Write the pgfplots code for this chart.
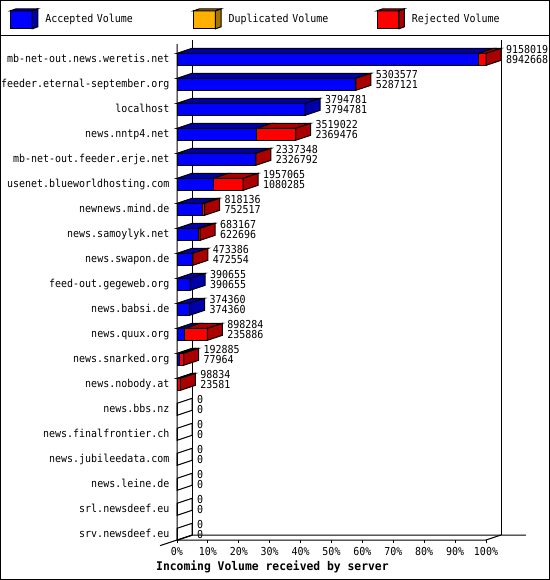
\documentclass[border=0pt]{standalone}
\usepackage{pgfplots}
\pgfplotsset{compat=1.18}
\usepackage{pgfplotstable}
\usepackage{fontspec}
\setmainfont{DejaVu Sans Mono}[FakeStretch=0.91]
\newfontfamily\titlefont{DejaVu Sans Mono}[FakeStretch=0.95]

\definecolor{accF}{HTML}{0000FF}
\definecolor{accD}{HTML}{0000AA}
\definecolor{dupF}{HTML}{FFB000}
\definecolor{dupD}{HTML}{A87400}
\definecolor{rejF}{HTML}{FF0000}
\definecolor{rejD}{HTML}{AA0000}

% total offered / accepted per server; bars are % of the largest total
\pgfplotstableread{
row name                          total   acc
1   mb-net-out.news.weretis.net   9158019 8942668
2   feeder.eternal-september.org  5303577 5287121
3   localhost                     3794781 3794781
4   news.nntp4.net                3519022 2369476
5   mb-net-out.feeder.erje.net    2337348 2326792
6   usenet.blueworldhosting.com   1957065 1080285
7   newnews.mind.de               818136  752517
8   news.samoylyk.net             683167  622696
9   news.swapon.de                473386  472554
10  feed-out.gegeweb.org          390655  390655
11  news.babsi.de                 374360  374360
12  news.quux.org                 898284  235886
13  news.snarked.org              192885  77964
14  news.nobody.at                98834   23581
15  news.bbs.nz                   0       0
16  news.finalfrontier.ch         0       0
17  news.jubileedata.com          0       0
18  news.leine.de                 0       0
19  srl.newsdeef.eu               0       0
20  srv.newsdeef.eu               0       0
}\data

\newcommand\dX{4.8544}
\newcommand\cube[2]{%
  \draw[line width=1bp,fill=#1] (0bp,-9bp) rectangle (21.7bp,9bp);
  \draw[line width=1bp,fill=#2] (21.7bp,9bp) -- (27.3bp,11bp) -- (27.3bp,-7bp) -- (21.7bp,-9bp) -- cycle;
  \draw[line width=1bp,fill=#2] (0bp,9bp) -- (5.6bp,11bp) -- (27.3bp,11bp) -- (21.7bp,9bp) -- cycle;
}
% top and side faces of one bar, from the table values
\newcommand\drawfaces[1]{%
  \pgfplotstablegetelem{#1}{row}\of\data\edef\R{\pgfplotsretval}%
  \pgfplotstablegetelem{#1}{total}\of\data\edef\T{\pgfplotsretval}%
  \pgfplotstablegetelem{#1}{acc}\of\data\edef\A{\pgfplotsretval}%
  \edef\xa{\fpeval{\A/91580.19}}%
  \edef\xt{\fpeval{\T/91580.19}}%
  \edef\xab{\fpeval{\xa+\dX}}%
  \edef\xtb{\fpeval{\xt+\dX}}%
  \edef\yf{\fpeval{\R-0.24}}%
  \edef\yb{\fpeval{\R+0.24}}%
  \edef\yt{\fpeval{\R-0.44}}%
  \edef\ybb{\fpeval{\R+0.04}}%
  \ifnum\fpeval{\T>0}=1\relax
    \edef\cmd{\noexpand\addplot[fill=accD,draw=black,forget plot] coordinates {(0,\yf) (\xa,\yf) (\xab,\yt) (\dX,\yt)} -- cycle;}\cmd
    \ifnum\fpeval{\T>\A}=1\relax
      \edef\cmd{\noexpand\addplot[fill=rejD,draw=black,forget plot] coordinates {(\xa,\yf) (\xt,\yf) (\xtb,\yt) (\xab,\yt)} -- cycle;}\cmd
      \def\sidecol{rejD}%
    \else
      \def\sidecol{accD}%
    \fi
    \edef\cmd{\noexpand\addplot[fill=\sidecol,draw=black,forget plot] coordinates {(\xt,\yf) (\xtb,\yt) (\xtb,\ybb) (\xt,\yb)} -- cycle;}\cmd
  \else
    \edef\cmd{\noexpand\addplot[draw=black,forget plot] coordinates {(0,\yf) (\dX,\yt) (\dX,\ybb) (0,\yb)} -- cycle;}\cmd
  \fi
}

\begin{document}
\begin{tikzpicture}[line width=1bp]
\useasboundingbox (0,0) rectangle (550bp,-580bp);
\draw (0.5bp,-0.5bp) rectangle (549.5bp,-579.5bp);
\draw (0,-35.5bp) -- (550bp,-35.5bp);
\begin{axis}[
    at={(177bp,-540bp)}, anchor=south west,
    scale only axis, width=309bp, height=500bp,
    xmin=0, xmax=100, ymin=0.228, ymax=20.228,
    y dir=reverse, enlargelimits=false, clip=false,
    axis line style={draw=none},
    font=\fontsize{11}{13}\selectfont,
    every axis plot/.append style={line width=1bp},
    xtick={0,10,...,100},
    xticklabels={0\%,10\%,20\%,30\%,40\%,50\%,60\%,70\%,80\%,90\%,100\%},
    xtick pos=left, tick align=outside, major tick length=3bp,
    xtick style={black, line width=1bp},
    xticklabel style={inner sep=0pt, text height=8bp, text depth=0pt},
    xticklabel shift=4bp,
    ytick={1,...,20},
    yticklabels from table={\data}{name},
    ytick style={draw=none},
    yticklabel style={inner sep=0pt, text height=7bp, text depth=1bp},
    yticklabel shift=4.5bp,
    /pgf/number format/assume math mode=true,
    xlabel={Incoming Volume received by server},
    xlabel style={at={(axis description cs:-0.068,-0.054)}, anchor=west,
        inner sep=0pt, font=\titlefont\fontsize{12}{14}\selectfont\bfseries},
    legend columns=3, legend cell align=left,
    legend style={at={(axis description cs:-0.54045,1.0634)}, anchor=north west,
        draw=none, fill=none, inner sep=0pt, outer sep=0pt,
        nodes={inner sep=0pt, text width=105bp, align=left, text height=7bp, text depth=1bp},
        /tikz/every odd column/.append style={column sep=7bp},
        /tikz/every even column/.append style={column sep=43bp}},
]
% walls and floor
\addplot[black,forget plot] coordinates {(\dX,0.228) (\dX,20.028)};
\addplot[black,forget plot] coordinates {(104.8544,0.228) (104.8544,20.028)};
\addplot[black,forget plot] coordinates {(-5.5,20.455) (\dX,20.028) (112.9,20.028)};
\addplot[black,forget plot] coordinates {(0,0.388) (0,20.228) (100,20.228) (104.8544,20.028)};

% front faces: rejected part behind, accepted part over it
\addplot[xbar, bar width=12bp, fill=rejF, draw=black, forget plot]
    table[x expr=\thisrow{total}/91580.19, y=row] {\data};
\addplot[xbar, bar width=12bp, fill=accF, draw=black, forget plot]
    table[x expr=\thisrow{acc}/91580.19, y=row] {\data};

\pgfplotsinvokeforeach{0,...,19}{\drawfaces{#1}}

% value labels
\addplot[draw=none, forget plot, nodes near coords, point meta=explicit symbolic,
    every node near coord/.style={anchor=west, inner sep=0pt, xshift=4.5bp, yshift=5.2bp,
        text height=8bp, text depth=0pt}]
    table[x expr=\thisrow{total}/91580.19+4.8544, y expr=\thisrow{row}-0.2, meta=total] {\data};
\addplot[draw=none, forget plot, nodes near coords, point meta=explicit symbolic,
    every node near coord/.style={anchor=west, inner sep=0pt, xshift=4.5bp, yshift=-5.2bp,
        text height=8bp, text depth=0pt}]
    table[x expr=\thisrow{total}/91580.19+4.8544, y expr=\thisrow{row}-0.2, meta=acc] {\data};

\addlegendimage{legend image code/.code={\cube{accF}{accD}}}
\addlegendentry{Accepted Volume}
\addlegendimage{legend image code/.code={\cube{dupF}{dupD}}}
\addlegendentry{Duplicated Volume}
\addlegendimage{legend image code/.code={\cube{rejF}{rejD}}}
\addlegendentry{Rejected Volume}
\end{axis}
\end{tikzpicture}
\end{document}
